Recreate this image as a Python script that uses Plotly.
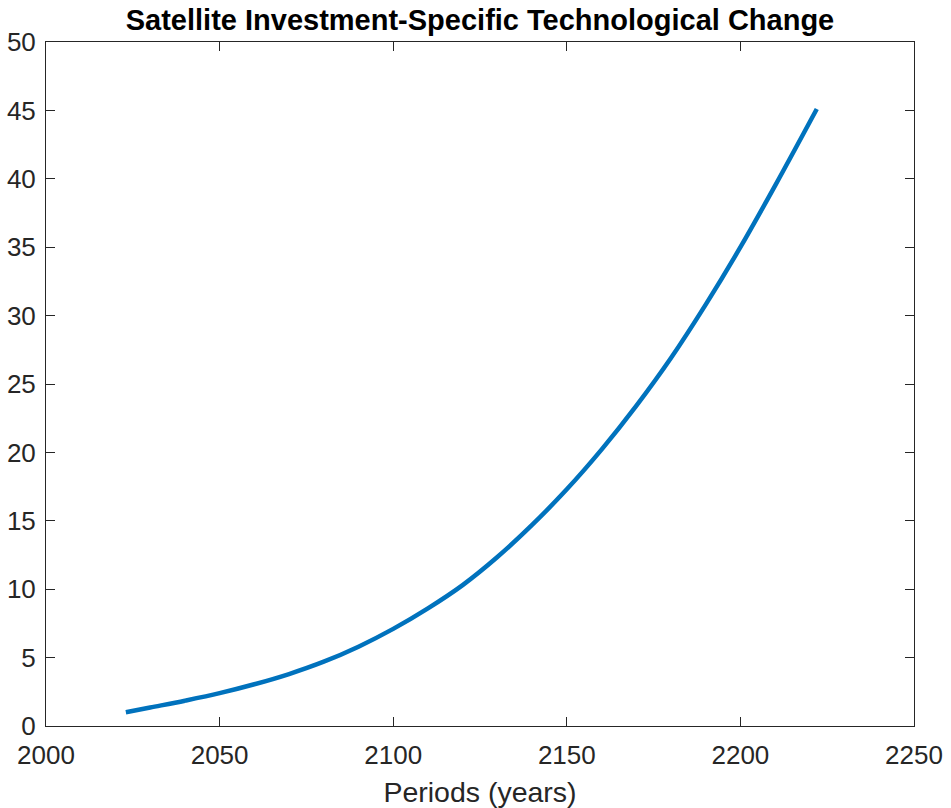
import plotly.graph_objects as go

# Investment-specific technological change index for the satellite sector
years = [2023, 2030, 2040, 2050, 2060, 2070, 2080, 2090, 2100, 2110, 2120,
         2130, 2140, 2150, 2160, 2170, 2180, 2190, 2200, 2210, 2222]
index_values = [1.0, 1.35, 1.85, 2.4, 3.05, 3.8, 4.7, 5.8, 7.1, 8.6, 10.3,
                12.35, 14.7, 17.3, 20.2, 23.4, 26.9, 30.8, 35.0, 39.5, 45.1]

x_ticks = [2000, 2050, 2100, 2150, 2200, 2250]
y_ticks = [0, 5, 10, 15, 20, 25, 30, 35, 40, 45, 50]

axis_color = "#262626"
font_family = "Liberation Sans, Arial, Helvetica, sans-serif"

fig = go.Figure()
fig.add_trace(go.Scatter(
    x=years, y=index_values, mode="lines",
    line=dict(color="#0072BD", width=4.5, shape="spline", smoothing=1.0),
    showlegend=False, hoverinfo="x+y",
))

axis_common = dict(
    showgrid=False, zeroline=False, showline=True, linecolor=axis_color,
    linewidth=1, mirror="allticks", ticks="inside", ticklen=9, tickwidth=1,
    tickcolor=axis_color, automargin=False,
    tickfont=dict(family=font_family, size=26, color=axis_color),
)

fig.update_layout(
    width=951, height=808,
    margin=dict(l=46, r=37, t=42, b=82),
    paper_bgcolor="white", plot_bgcolor="white",
    title=dict(
        text="<b>Satellite Investment-Specific Technological Change</b>",
        x=(46 + 914) / 2 / 951, xanchor="center", y=1 - 20 / 808, yanchor="middle",
        font=dict(family=font_family, size=29, color="black"),
    ),
    xaxis=dict(
        range=[2000, 2250], tickvals=x_ticks, ticklabelstandoff=6,
        title=dict(text="Periods (years)", standoff=14,
                   font=dict(family=font_family, size=28.5, color=axis_color)),
        **axis_common,
    ),
    yaxis=dict(
        range=[0, 50], tickvals=y_ticks, ticklabelstandoff=4,
        **axis_common,
    ),
)

fig.write_html("out.html")
